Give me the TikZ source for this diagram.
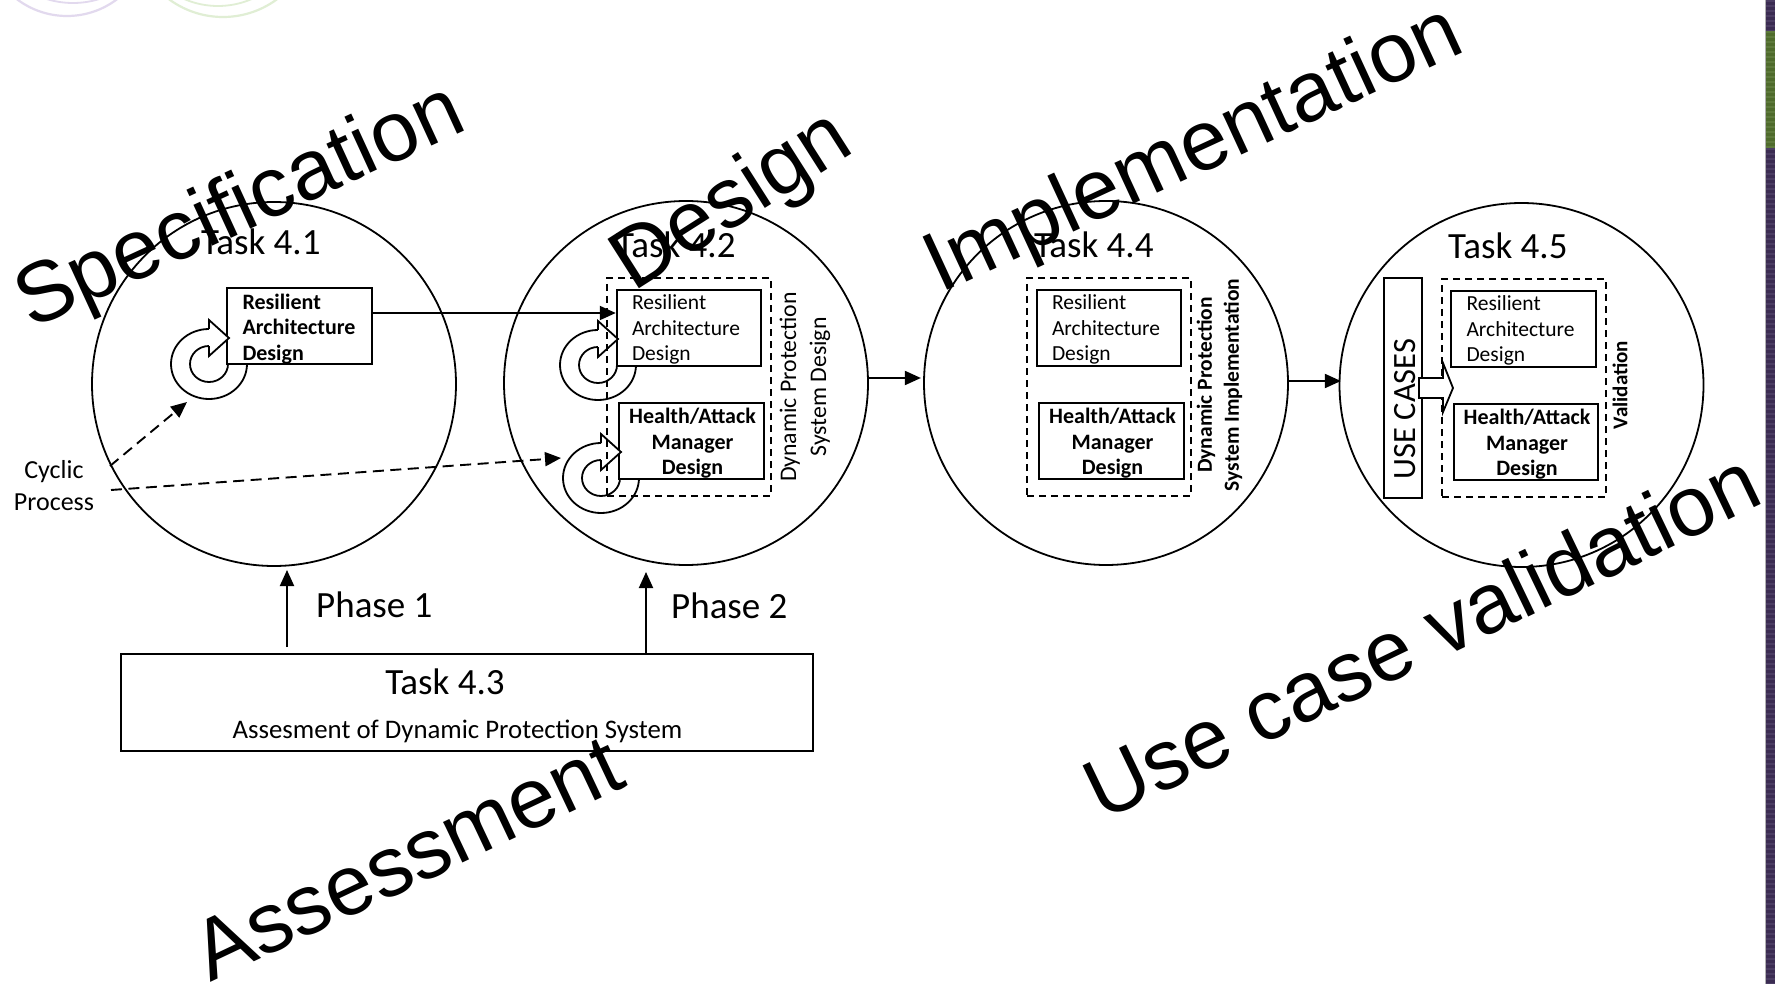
\documentclass[tikz,border=0pt]{standalone}
\usepackage{fontspec}
\setmainfont{Carlito}
\newfontfamily\wm{Liberation Sans}
\usetikzlibrary{arrows.meta,calc}
\definecolor{stripP}{HTML}{3B2C52}
\definecolor{stripPl}{HTML}{4B3D63}
\definecolor{stripG}{HTML}{4F6B2C}
\definecolor{stripGl}{HTML}{5E7A3C}
\definecolor{ringP}{HTML}{E2D9EE}
\definecolor{ringG}{HTML}{E0EED4}
\newcommand{\fs}[1]{\fontsize{#1}{#1}\selectfont}
\tikzset{
  x=1pt,y=-1pt,
  taskcircle/.style={circle,draw,line width=1.8pt,minimum size=364pt,inner sep=0pt},
  plainbox/.style={rectangle,draw,line width=1.9pt,fill=white,inner sep=0pt,minimum width=144.5pt,minimum height=76pt},
  dashbox/.style={rectangle,draw,line width=1.8pt,inner sep=0pt,minimum width=164pt,minimum height=218pt,dash pattern=on 7pt off 5pt},
  boxtxt/.style={inner sep=0pt,font=\fs{21.5},align=left,execute at begin node=\setlength{\baselineskip}{25.5pt}},
  boldtxt/.style={inner sep=0pt,font=\fs{22}\bfseries,align=center,execute at begin node=\setlength{\baselineskip}{25.5pt}},
  sidetxt/.style={inner sep=0pt,font=\fs{23.8},align=center,rotate=90,execute at begin node=\setlength{\baselineskip}{30pt}},
  sidebold/.style={sidetxt,font=\fs{21.5}\bfseries,execute at begin node=\setlength{\baselineskip}{27pt}},
  tasktxt/.style={inner sep=0pt,anchor=base west,font=\fs{37}},
  phasetxt/.style={inner sep=0pt,anchor=base west,font=\fs{37}},
  wmark/.style={inner sep=0pt,anchor=base west,font=\wm\fs{85}},
  conn/.style={line width=1.9pt,-{Triangle[length=16pt,width=14pt]}},
  dconn/.style={conn,dash pattern=on 11pt off 6.5pt},
  ring/.style={line width=1.8pt}
}
\newcommand{\cycring}[2]{%
  \draw[ring] (#1,#2-35) arc[start angle=90,end angle=360,x radius=38pt,y radius=35pt];
  \draw[ring] (#1,#2-18) arc[start angle=90,end angle=360,x radius=19pt,y radius=18pt];
}
\newcommand{\cychead}[2]{%
  \draw[ring,fill=white] (#1,#2-35) -- (#1,#2-44) -- (#1+20,#2-26) -- (#1,#2-8) -- (#1,#2-18);
}
\begin{document}
\begin{tikzpicture}
\useasboundingbox (0,0) rectangle (1775,984);
\fill[white] (0,0) rectangle (1775,984);
% logo remains
\begin{scope}
\clip (0,0) rectangle (1775,40);
\draw[ringP,line width=2.2pt] (67,16-83) circle[radius=83pt];
\draw[ringP,line width=1.8pt] (73,3-89) circle[radius=89pt];
\draw[ringG,line width=2.2pt] (223,17-91) circle[radius=91pt];
\draw[ringG,line width=1.8pt] (218,6-85) circle[radius=85pt];
\end{scope}
% right strip
\fill[stripP] (1766,0) rectangle (1775,984);
\fill[stripG] (1766,31) rectangle (1775,148);
\draw[stripPl,line width=9pt,dash pattern=on 2pt off 3pt] (1770.5,0) -- (1770.5,31);
\draw[stripGl,line width=9pt,dash pattern=on 2pt off 3pt] (1770.5,31) -- (1770.5,148);
\draw[stripPl,line width=9pt,dash pattern=on 2pt off 3pt] (1770.5,148) -- (1770.5,984);
\draw[gray!60,line width=1pt] (1765.5,0) -- (1765.5,984);
% circles
\node[taskcircle] (c1) at (274,384) {};
\node[taskcircle] (c2) at (686,383) {};
\node[taskcircle] (c3) at (1106,383) {};
\node[taskcircle] (c4) at (1521.5,385) {};
% task titles
\node[tasktxt] (t41) at (201,255) {Task 4.1};
\node[tasktxt] (t42) at (616,258) {Task 4.2};
\node[tasktxt] (t44) at (1034,258) {Task 4.4};
\node[tasktxt] (t45) at (1448,259) {Task 4.5};
% cyclic rings
\cycring{209}{364}
\cycring{598}{365}
\cycring{601}{478}
% boxes
\node[plainbox] (b1) at (299.5,326) {};
\node[boldtxt,anchor=west,align=left] (b1t) at ([xshift=16pt,yshift=-3pt]b1.west) {Resilient\\Architecture\\Design};
\node[plainbox] (b2) at (689,328) {};
\node[boxtxt,anchor=west] (b2t) at ([xshift=16pt,yshift=-1.5pt]b2.west) {Resilient\\Architecture\\Design};
\node[plainbox] (b3) at (691.5,441) {};
\node[boldtxt] (b3t) at ([xshift=1pt,yshift=-2.5pt]b3.center) {Health/Attack\\Manager\\Design};
\node[plainbox] (b4) at (1109,328) {};
\node[boxtxt,anchor=west] (b4t) at ([xshift=16pt,yshift=-1.5pt]b4.west) {Resilient\\Architecture\\Design};
\node[plainbox] (b5) at (1111.5,441) {};
\node[boldtxt] (b5t) at ([xshift=1pt,yshift=-2.5pt]b5.center) {Health/Attack\\Manager\\Design};
\node[plainbox] (b6) at (1523.5,329) {};
\node[boxtxt,anchor=west] (b6t) at ([xshift=16pt,yshift=-1.5pt]b6.west) {Resilient\\Architecture\\Design};
\node[plainbox] (b7) at (1526,442) {};
\node[boldtxt] (b7t) at ([xshift=1pt,yshift=-2.5pt]b7.center) {Health/Attack\\Manager\\Design};
\cychead{209}{364}
\cychead{598}{365}
\cychead{601}{478}
% dashed groups
\node[dashbox] (d2) at (689,387) {};
\node[dashbox] (d4) at (1109,387) {};
\node[dashbox] (d5) at (1524,388) {};
% side labels
\node[sidetxt] (s2) at (805,387) {Dynamic Protection\\System Design};
\node[sidebold] (s4) at (1219.5,385) {Dynamic Protection\\System Implementation};
\node[sidebold,font=\fs{21}\bfseries] (s5) at (1620,385) {Validation};
% use cases
\node[rectangle,draw,line width=1.9pt,fill=white,minimum width=38pt,minimum height=220pt,inner sep=0pt] (uc) at (1403,388) {};
\node[inner sep=0pt,rotate=90,font=\fs{32.5}] (uct) at (1405,409) {USE CASES};
\draw[line width=1.8pt,fill=white] (1419,378) -- (1443,378) -- (1443,363) -- (1453,388) -- (1443,412) -- (1443,398) -- (1419,398) -- cycle;
% task 4.3
\node[rectangle,draw,line width=1.9pt,minimum width=692pt,minimum height=97pt,inner sep=0pt] (t43) at (467,702.5) {};
\node[inner sep=0pt,anchor=base,font=\fs{37}] (t43a) at (445,694) {Task 4.3};
\node[inner sep=0pt,anchor=base,font=\fs{26.8}] (t43b) at (457.5,738) {Assesment of Dynamic Protection System};
% phases
\coordinate (p1s) at (287,647);
\coordinate (p1e) at (287,570);
\coordinate (p2s) at (646,653);
\coordinate (p2e) at (646,572);
\draw[conn] (p1s) -- (p1e);
\draw[conn] (p2s) -- (p2e);
\node[phasetxt] (ph1) at (316,617) {Phase 1};
\node[phasetxt] (ph2) at (671,618) {Phase 2};
% flow connectors
\draw[conn] ([yshift=13pt]b1.east) -- ([yshift=15pt]b2.west);
\draw[conn] (c2.east) ++(0,-5) -- ++(52,0) coordinate (a23);
\draw[conn] (c3.east) ++(0,-2) -- ++(52,0) coordinate (a34);
% cyclic process
\node[inner sep=0pt,align=center,font=\fs{26},execute at begin node=\setlength{\baselineskip}{32pt}] (cyc) at (54,486) {Cyclic\\Process};
\coordinate (d1s) at (110,466);
\coordinate (d1e) at (187,402);
\coordinate (d2s) at (111,490);
\coordinate (d2e) at (561,458);
\draw[dconn] (d1s) -- (d1e);
\draw[dconn] (d2s) -- (d2e);
% watermark words
\node[wmark,rotate=24.7] (w1) at (31,330) {Specification};
\node[wmark,rotate=32.5] (w2) at (633,293) {Design};
\node[wmark,rotate=24.8] (w3) at (940,294) {Implementation};
\node[wmark,rotate=25.7] (w4) at (1102,822) {Use case validation};
\node[wmark,rotate=25.3] (w5) at (210,983) {Assessment};
\end{tikzpicture}
\end{document}
